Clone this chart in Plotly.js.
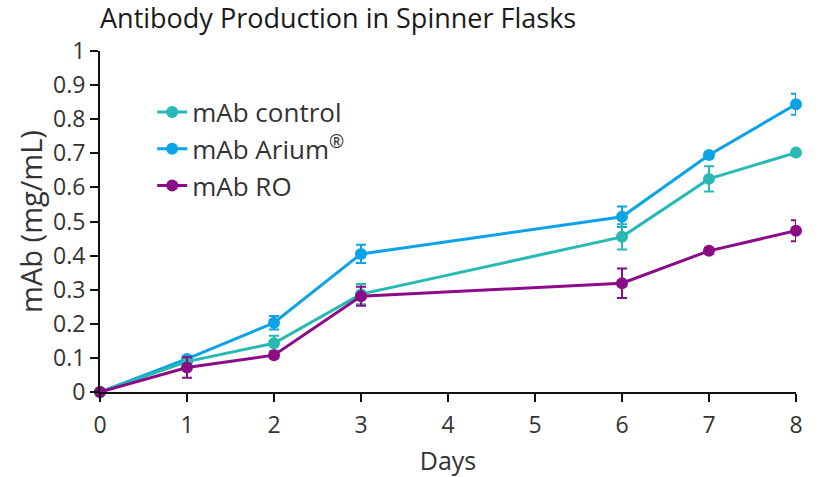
<!DOCTYPE html>
<html>
<head>
<meta charset="utf-8">
<script src="https://cdn.plot.ly/plotly-3.0.1.min.js"></script>
<style>
  html, body { margin: 0; padding: 0; background: #fff; }
  #chart { width: 819px; height: 477px; }
</style>
</head>
<body>
<div id="chart"></div>
<script>
const days = [0, 1, 2, 3, 6, 7, 8];

const controlMean = [0, 0.089, 0.143, 0.287, 0.455, 0.625, 0.702];
const controlErr  = [0, 0.01, 0.022, 0.03, 0.037, 0.037, 0.008];

const ariumMean = [0, 0.097, 0.203, 0.405, 0.514, 0.695, 0.844];
const ariumErr  = [0, 0.008, 0.02, 0.027, 0.03, 0.008, 0.031];

const roMean = [0, 0.072, 0.108, 0.281, 0.319, 0.414, 0.473];
const roErr  = [0, 0.03, 0.008, 0.028, 0.043, 0.008, 0.031];

const colors = { control: "#27b9b3", arium: "#0ca3e6", ro: "#8a0c86" };

function serie(name, y, err, color, rank) {
  return {
    x: days, y: y, name: name,
    type: "scatter", mode: "lines+markers",
    line: { color: color, width: 3 },
    marker: { color: color, size: 12 },
    error_y: { type: "data", array: err, visible: true, color: color, thickness: 2, width: 5 },
    legendrank: rank, legendgroup: name,
    cliponaxis: false,
  };
}

const data = [
  serie("mAb Arium<sup>®</sup>", ariumMean, ariumErr, colors.arium, 2),
  serie("mAb control", controlMean, controlErr, colors.control, 1),
  serie("mAb RO", roMean, roErr, colors.ro, 3),
];

const font = "'Open Sans', Lato, sans-serif";

Plotly.newPlot("chart", data, {
  width: 819, height: 477,
  margin: { l: 100, r: 23, t: 51, b: 85 },
  paper_bgcolor: "#fff", plot_bgcolor: "#fff",
  font: { family: font, color: "#222", size: 20 },
  title: { text: "Antibody Production in Spinner Flasks", x: 100 / 819, xanchor: "left", y: 0.962, yanchor: "middle", font: { size: 27, color: "#1a1a1a", weight: 500 } },
  showlegend: true,
  legend: { x: 0.075, y: 0.89, xanchor: "left", yanchor: "top", font: { size: 26, color: "#333" }, traceorder: "grouped", tracegroupgap: 0, bgcolor: "rgba(0,0,0,0)" },
  xaxis: {
    range: [0, 8], tickvals: [0, 1, 2, 3, 4, 5, 6, 7, 8],
    showgrid: false, zeroline: false, showline: true, linecolor: "#111", linewidth: 2,
    ticks: "outside", ticklen: 8, tickwidth: 2, tickcolor: "#111",
    ticklabelstandoff: 3,
    tickfont: { size: 23, color: "#333" },
    title: { text: "Days", font: { size: 25, color: "#333" }, standoff: 14 },
  },
  yaxis: {
    range: [0, 1], dtick: 0.1,
    showgrid: false, zeroline: false, showline: true, linecolor: "#111", linewidth: 2,
    ticks: "outside", ticklen: 8, tickwidth: 2, tickcolor: "#111",
    tickfont: { size: 23, color: "#333" },
    title: { text: "mAb (mg/mL)", font: { size: 29, color: "#333" }, standoff: 2 },
  },
}, { displayModeBar: false });
</script>
</body>
</html>
